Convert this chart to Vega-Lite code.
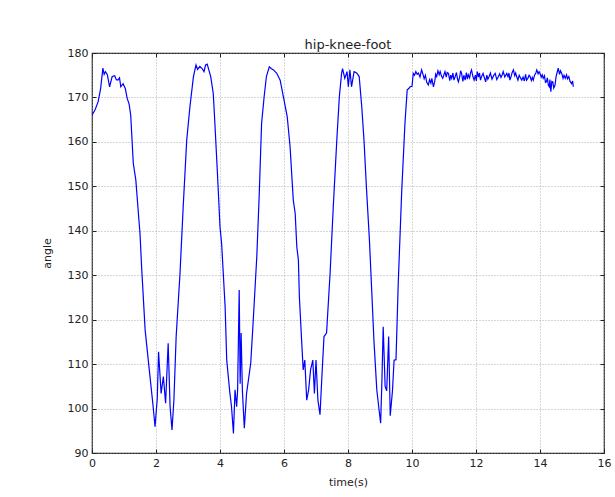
{
  "$schema": "https://vega.github.io/schema/vega-lite/v6.json",
  "width": 512,
  "height": 400,
  "autosize": {"type": "none"},
  "padding": {"left": 92, "top": 53, "right": 11, "bottom": 44},
  "background": "white",
  "title": {"text": "hip-knee-foot", "fontSize": 13, "font": "DejaVu Sans", "fontWeight": "normal", "color": "#222", "offset": -5},
  "config": {
    "view": {"stroke": "#222", "strokeWidth": 1.2},
    "axis": {"labelFont": "DejaVu Sans", "labelFontSize": 11, "labelColor": "#222", "titleFont": "DejaVu Sans", "titleFontSize": 11, "titleFontWeight": "normal", "titleColor": "#222"}
  },
  "data": {"values": [
    {"t": 0.00, "angle": 166.0}, {"t": 0.10, "angle": 167.3}, {"t": 0.19, "angle": 169.0}, {"t": 0.27, "angle": 172.0},
    {"t": 0.34, "angle": 176.6}, {"t": 0.38, "angle": 175.2}, {"t": 0.42, "angle": 175.8}, {"t": 0.48, "angle": 175.1}, {"t": 0.55, "angle": 172.4},
    {"t": 0.63, "angle": 174.7}, {"t": 0.71, "angle": 174.9}, {"t": 0.76, "angle": 174.0}, {"t": 0.81, "angle": 173.9}, {"t": 0.86, "angle": 174.4}, {"t": 0.90, "angle": 172.4},
    {"t": 0.97, "angle": 173.1}, {"t": 1.04, "angle": 172.0}, {"t": 1.10, "angle": 169.8}, {"t": 1.16, "angle": 168.5},
    {"t": 1.21, "angle": 166.0}, {"t": 1.29, "angle": 155.2}, {"t": 1.37, "angle": 151.4}, {"t": 1.45, "angle": 143.9},
    {"t": 1.50, "angle": 139.4}, {"t": 1.55, "angle": 131.9}, {"t": 1.66, "angle": 117.7}, {"t": 1.79, "angle": 108.7},
    {"t": 1.90, "angle": 101.2}, {"t": 1.97, "angle": 95.9}, {"t": 2.04, "angle": 102.3}, {"t": 2.08, "angle": 112.8},
    {"t": 2.16, "angle": 103.4}, {"t": 2.23, "angle": 107.2}, {"t": 2.30, "angle": 101.2}, {"t": 2.38, "angle": 114.7},
    {"t": 2.44, "angle": 100.4}, {"t": 2.50, "angle": 95.2}, {"t": 2.56, "angle": 102.0}, {"t": 2.63, "angle": 116.2},
    {"t": 2.75, "angle": 130.4}, {"t": 2.85, "angle": 145.4}, {"t": 2.96, "angle": 160.4}, {"t": 3.06, "angle": 167.9},
    {"t": 3.17, "angle": 174.7}, {"t": 3.25, "angle": 177.3}, {"t": 3.30, "angle": 176.3}, {"t": 3.37, "angle": 177.0},
    {"t": 3.44, "angle": 176.5}, {"t": 3.50, "angle": 175.8}, {"t": 3.55, "angle": 177.3}, {"t": 3.60, "angle": 177.5},
    {"t": 3.71, "angle": 174.7}, {"t": 3.79, "angle": 170.9}, {"t": 3.84, "angle": 164.2}, {"t": 3.92, "angle": 152.9},
    {"t": 4.00, "angle": 140.9}, {"t": 4.05, "angle": 137.2}, {"t": 4.16, "angle": 122.9}, {"t": 4.21, "angle": 110.9},
    {"t": 4.31, "angle": 103.4}, {"t": 4.36, "angle": 100.4}, {"t": 4.42, "angle": 94.4}, {"t": 4.47, "angle": 104.2},
    {"t": 4.52, "angle": 100.4}, {"t": 4.55, "angle": 104.0}, {"t": 4.60, "angle": 126.7}, {"t": 4.63, "angle": 105.6},
    {"t": 4.66, "angle": 117.0}, {"t": 4.70, "angle": 104.0}, {"t": 4.76, "angle": 95.6}, {"t": 4.83, "angle": 103.4},
    {"t": 4.96, "angle": 110.2}, {"t": 5.04, "angle": 120.0}, {"t": 5.15, "angle": 134.2}, {"t": 5.22, "angle": 147.0},
    {"t": 5.30, "angle": 164.2}, {"t": 5.38, "angle": 170.2}, {"t": 5.45, "angle": 174.7}, {"t": 5.54, "angle": 176.9},
    {"t": 5.60, "angle": 176.5}, {"t": 5.67, "angle": 176.2}, {"t": 5.77, "angle": 175.5}, {"t": 5.88, "angle": 173.9},
    {"t": 5.98, "angle": 170.2}, {"t": 6.10, "angle": 165.7}, {"t": 6.19, "angle": 158.9}, {"t": 6.29, "angle": 146.9},
    {"t": 6.35, "angle": 143.9}, {"t": 6.40, "angle": 136.4}, {"t": 6.45, "angle": 133.4}, {"t": 6.48, "angle": 125.2},
    {"t": 6.55, "angle": 115.4}, {"t": 6.60, "angle": 108.7}, {"t": 6.65, "angle": 110.9}, {"t": 6.71, "angle": 101.9},
    {"t": 6.77, "angle": 104.2}, {"t": 6.83, "angle": 108.7}, {"t": 6.90, "angle": 110.9}, {"t": 6.95, "angle": 103.4},
    {"t": 7.00, "angle": 110.9}, {"t": 7.06, "angle": 101.9}, {"t": 7.125, "angle": 98.6}, {"t": 7.19, "angle": 108.0},
    {"t": 7.25, "angle": 116.2}, {"t": 7.33, "angle": 117.0}, {"t": 7.44, "angle": 130.4}, {"t": 7.54, "angle": 145.4},
    {"t": 7.65, "angle": 160.4}, {"t": 7.73, "angle": 170.2}, {"t": 7.80, "angle": 175.4}, {"t": 7.83, "angle": 176.5},
    {"t": 7.90, "angle": 174.3}, {"t": 7.97, "angle": 175.8}, {"t": 8.01, "angle": 172.4}, {"t": 8.06, "angle": 176.2},
    {"t": 8.11, "angle": 172.4}, {"t": 8.19, "angle": 175.8}, {"t": 8.27, "angle": 175.5}, {"t": 8.35, "angle": 174.7},
    {"t": 8.43, "angle": 167.9}, {"t": 8.50, "angle": 160.4}, {"t": 8.58, "angle": 149.2}, {"t": 8.67, "angle": 137.9},
    {"t": 8.74, "angle": 126.7}, {"t": 8.81, "angle": 115.4}, {"t": 8.90, "angle": 104.2}, {"t": 8.96, "angle": 100.4},
    {"t": 9.02, "angle": 96.7}, {"t": 9.06, "angle": 106.3}, {"t": 9.10, "angle": 118.4}, {"t": 9.16, "angle": 105.0},
    {"t": 9.21, "angle": 104.0}, {"t": 9.27, "angle": 116.2}, {"t": 9.32, "angle": 98.4}, {"t": 9.39, "angle": 104.0},
    {"t": 9.44, "angle": 110.9}, {"t": 9.50, "angle": 111.0}, {"t": 9.57, "angle": 128.2}, {"t": 9.68, "angle": 149.2},
    {"t": 9.78, "angle": 164.2}, {"t": 9.85, "angle": 171.7}, {"t": 9.90, "angle": 172.0}, {"t": 9.94, "angle": 172.4},
    {"t": 10.00, "angle": 172.5}, {"t": 10.04, "angle": 175.4}, {"t": 10.08, "angle": 175.0}, {"t": 10.12, "angle": 175.8},
    {"t": 10.16, "angle": 175.2}, {"t": 10.20, "angle": 175.5}, {"t": 10.25, "angle": 174.6}, {"t": 10.30, "angle": 176.2},
    {"t": 10.34, "angle": 175.3}, {"t": 10.38, "angle": 174.2}, {"t": 10.42, "angle": 175.0}, {"t": 10.46, "angle": 173.4},
    {"t": 10.51, "angle": 172.8}, {"t": 10.55, "angle": 174.0}, {"t": 10.59, "angle": 173.2}, {"t": 10.62, "angle": 174.3},
    {"t": 10.67, "angle": 172.4}, {"t": 10.71, "angle": 173.6}, {"t": 10.74, "angle": 175.2}, {"t": 10.77, "angle": 174.7},
    {"t": 10.81, "angle": 176.0}, {"t": 10.85, "angle": 175.1}, {"t": 10.88, "angle": 175.8}, {"t": 10.92, "angle": 174.8},
    {"t": 10.96, "angle": 174.3}, {"t": 11.00, "angle": 175.2}, {"t": 11.03, "angle": 175.8}, {"t": 11.07, "angle": 174.6},
    {"t": 11.10, "angle": 175.6}, {"t": 11.14, "angle": 175.4}, {"t": 11.18, "angle": 173.8}, {"t": 11.21, "angle": 175.0},
    {"t": 11.24, "angle": 174.3}, {"t": 11.28, "angle": 175.5}, {"t": 11.31, "angle": 173.9}, {"t": 11.35, "angle": 174.7},
    {"t": 11.39, "angle": 175.6}, {"t": 11.42, "angle": 174.2}, {"t": 11.45, "angle": 173.5}, {"t": 11.49, "angle": 174.6},
    {"t": 11.52, "angle": 176.0}, {"t": 11.55, "angle": 175.4}, {"t": 11.59, "angle": 173.6}, {"t": 11.62, "angle": 175.0},
    {"t": 11.66, "angle": 173.9}, {"t": 11.70, "angle": 175.6}, {"t": 11.73, "angle": 174.1}, {"t": 11.76, "angle": 175.1},
    {"t": 11.80, "angle": 174.4}, {"t": 11.83, "angle": 175.6}, {"t": 11.86, "angle": 176.2}, {"t": 11.90, "angle": 174.8},
    {"t": 11.94, "angle": 173.9}, {"t": 11.98, "angle": 175.0}, {"t": 12.01, "angle": 173.7}, {"t": 12.04, "angle": 175.8},
    {"t": 12.08, "angle": 174.6}, {"t": 12.11, "angle": 175.5}, {"t": 12.14, "angle": 173.9}, {"t": 12.18, "angle": 174.8},
    {"t": 12.22, "angle": 175.4}, {"t": 12.26, "angle": 174.5}, {"t": 12.30, "angle": 173.5}, {"t": 12.34, "angle": 175.0},
    {"t": 12.37, "angle": 174.1}, {"t": 12.41, "angle": 174.7}, {"t": 12.45, "angle": 175.5}, {"t": 12.50, "angle": 174.1},
    {"t": 12.55, "angle": 174.9}, {"t": 12.60, "angle": 175.4}, {"t": 12.65, "angle": 174.0}, {"t": 12.70, "angle": 174.7},
    {"t": 12.74, "angle": 175.3}, {"t": 12.78, "angle": 174.5}, {"t": 12.82, "angle": 175.1}, {"t": 12.85, "angle": 175.8},
    {"t": 12.90, "angle": 174.6}, {"t": 12.96, "angle": 175.4}, {"t": 13.00, "angle": 174.7}, {"t": 13.03, "angle": 175.5},
    {"t": 13.06, "angle": 173.9}, {"t": 13.10, "angle": 174.8}, {"t": 13.13, "angle": 175.6}, {"t": 13.17, "angle": 176.2},
    {"t": 13.21, "angle": 174.9}, {"t": 13.24, "angle": 175.5}, {"t": 13.27, "angle": 174.7}, {"t": 13.31, "angle": 173.9},
    {"t": 13.35, "angle": 175.0}, {"t": 13.39, "angle": 174.4}, {"t": 13.43, "angle": 173.9}, {"t": 13.47, "angle": 174.6},
    {"t": 13.51, "angle": 173.7}, {"t": 13.55, "angle": 175.2}, {"t": 13.58, "angle": 173.9}, {"t": 13.62, "angle": 174.3},
    {"t": 13.66, "angle": 175.0}, {"t": 13.69, "angle": 174.7}, {"t": 13.73, "angle": 173.8}, {"t": 13.76, "angle": 174.5},
    {"t": 13.79, "angle": 173.9}, {"t": 13.83, "angle": 175.0}, {"t": 13.87, "angle": 175.5}, {"t": 13.90, "angle": 176.2},
    {"t": 13.94, "angle": 175.3}, {"t": 13.97, "angle": 175.8}, {"t": 14.00, "angle": 175.4}, {"t": 14.04, "angle": 174.6},
    {"t": 14.07, "angle": 175.1}, {"t": 14.10, "angle": 174.3}, {"t": 14.14, "angle": 174.9}, {"t": 14.17, "angle": 173.4},
    {"t": 14.20, "angle": 173.5}, {"t": 14.23, "angle": 174.4}, {"t": 14.26, "angle": 172.8}, {"t": 14.29, "angle": 172.4},
    {"t": 14.31, "angle": 174.0}, {"t": 14.34, "angle": 171.3}, {"t": 14.37, "angle": 173.6}, {"t": 14.40, "angle": 173.5},
    {"t": 14.43, "angle": 172.1}, {"t": 14.47, "angle": 172.8}, {"t": 14.50, "angle": 174.6}, {"t": 14.53, "angle": 175.5},
    {"t": 14.57, "angle": 176.6}, {"t": 14.61, "angle": 175.2}, {"t": 14.64, "angle": 176.0}, {"t": 14.68, "angle": 175.4},
    {"t": 14.72, "angle": 174.3}, {"t": 14.75, "angle": 175.0}, {"t": 14.79, "angle": 174.3}, {"t": 14.83, "angle": 175.1},
    {"t": 14.86, "angle": 174.2}, {"t": 14.90, "angle": 174.7}, {"t": 14.94, "angle": 173.6}, {"t": 14.99, "angle": 173.1},
    {"t": 15.02, "angle": 173.7}, {"t": 15.04, "angle": 172.4}
  ]},
  "layer": [
    {
      "mark": {"type": "line", "color": "#0000ff", "strokeWidth": 1.2, "clip": true},
      "encoding": {
        "x": {"field": "t", "type": "quantitative", "scale": {"domain": [0, 16], "nice": false},
              "axis": {"title": "time(s)", "values": [0, 2, 4, 6, 8, 10, 12, 14, 16], "format": "d", "domain": false,
                       "grid": true, "gridColor": "#999", "gridDash": [1, 2], "gridWidth": 0.8,
                       "tickSize": -4, "tickColor": "#222", "labelPadding": 8, "titlePadding": 8, "labelFlush": false}},
        "y": {"field": "angle", "type": "quantitative", "scale": {"domain": [90, 180], "nice": false, "zero": false},
              "axis": {"title": "angle", "values": [90, 100, 110, 120, 130, 140, 150, 160, 170, 180], "domain": false,
                       "grid": true, "gridColor": "#999", "gridDash": [1, 2], "gridWidth": 0.8,
                       "tickSize": -4, "tickColor": "#222", "labelPadding": 8, "titlePadding": 15, "labelFlush": false}}
      }
    },
    {
      "mark": {"type": "point", "opacity": 0},
      "encoding": {
        "x": {"field": "t", "type": "quantitative",
              "axis": {"orient": "top", "title": null, "labels": false, "values": [0, 2, 4, 6, 8, 10, 12, 14, 16], "domain": false, "grid": false, "tickSize": -4, "tickColor": "#222"}},
        "y": {"field": "angle", "type": "quantitative",
              "axis": {"orient": "right", "title": null, "labels": false, "values": [90, 100, 110, 120, 130, 140, 150, 160, 170, 180], "domain": false, "grid": false, "tickSize": -4, "tickColor": "#222"}}
      }
    }
  ],
  "resolve": {"axis": {"x": "independent", "y": "independent"}}
}
